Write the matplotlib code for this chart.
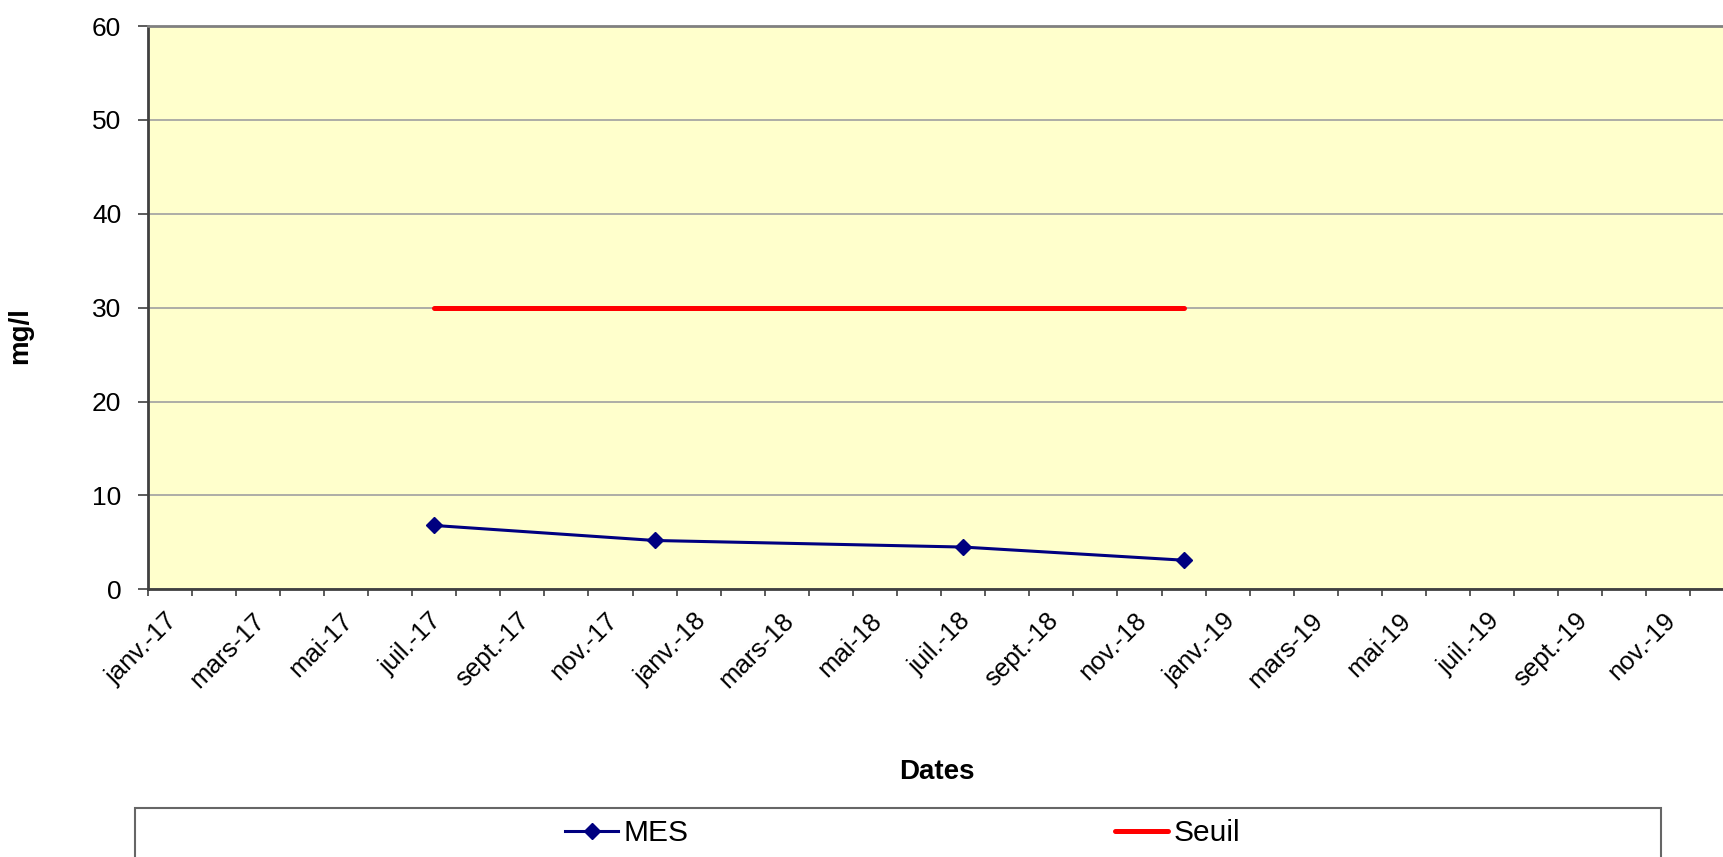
import matplotlib
matplotlib.use("Agg")
import matplotlib.pyplot as plt
from matplotlib.patches import Rectangle
import matplotlib.transforms as mtransforms

plt.rcParams['font.family'] = ['Liberation Sans', 'DejaVu Sans']

# ---- data ----
sample_months = ["2017-07", "2017-12", "2018-07", "2018-12"]
mes_values = [6.8, 5.2, 4.5, 3.1]
seuil_values = [30, 30, 30, 30]
tick_labels = ["janv.-17", "mars-17", "mai-17", "juil.-17", "sept.-17", "nov.-17",
               "janv.-18", "mars-18", "mai-18", "juil.-18", "sept.-18", "nov.-18",
               "janv.-19", "mars-19", "mai-19", "juil.-19", "sept.-19", "nov.-19"]
start_year, start_month = 2017, 1
n_months = 36

def month_pos(s):
    y, m = s.split("-")
    # Excel month axis, points plotted between tick marks
    return (int(y) - start_year) * 12 + (int(m) - start_month) + 0.5

x = [month_pos(s) for s in sample_months]

W, H = 1723, 857
fig = plt.figure(figsize=(W / 100, H / 100), dpi=100)
left_px, right_px = 147.7, 147.7 + 36 * 44.08
top_px, bot_px = 26.0, 589.3
ax = fig.add_axes([left_px / W, (H - bot_px) / H, (right_px - left_px) / W, (bot_px - top_px) / H])
ax.set_facecolor("#FFFFCC")

ax.set_xlim(0, n_months)
ax.set_ylim(0, 60)
ax.set_yticks(range(0, 61, 10))
ax.grid(axis="y", color="#A0A0A0", linewidth=1.2)
ax.set_axisbelow(True)

ax.plot(x, seuil_values, color="#FF0000", linewidth=3.6, solid_capstyle="round",
        label="Seuil", zorder=3)
ax.plot(x, mes_values, color="#000080", linewidth=2.2, marker="D", markersize=8,
        label="MES", zorder=4)

ax.tick_params(axis="x", length=5, width=1.2, color="#404040", pad=8.7, labelsize=18.5)
ax.tick_params(axis="y", length=7, width=1.2, color="#404040", pad=12, labelsize=19)

ax.set_xticks(range(0, n_months + 1))
labels = []
for i in range(n_months + 1):
    labels.append(tick_labels[i // 2] if (i % 2 == 0 and i // 2 < len(tick_labels)) else "")
ax.set_xticklabels(labels)
offset = mtransforms.ScaledTranslation(17 / 100, 0, fig.dpi_scale_trans)
for lab in ax.get_xticklabels():
    lab.set_rotation(45)
    lab.set_rotation_mode("anchor")
    lab.set_ha("right")
    lab.set_va("top")
    lab.set_fontsize(18.5)
    lab.set_transform(lab.get_transform() + offset)

ax.spines["right"].set_visible(False)
ax.spines["top"].set_color("#808080")
ax.spines["top"].set_linewidth(2)
for s in ["left", "bottom"]:
    ax.spines[s].set_color("#404040")
    ax.spines[s].set_linewidth(2)

ax.set_ylabel("mg/l", fontsize=20, fontweight="bold")
ax.yaxis.set_label_coords(-0.0723, 0.451)
ax.set_xlabel("Dates", fontsize=20, fontweight="bold")
ax.xaxis.set_label_coords(0.497, -0.301)

# legend box
fig.patches.append(Rectangle((135 / W, -0.05), (1661 - 135) / W, (H - 807.7) / H + 0.05,
                             transform=fig.transFigure, facecolor="white",
                             edgecolor="#666666", linewidth=1.5, zorder=0))
handles, labs = ax.get_legend_handles_labels()
order = [1, 0]
fig.legend([handles[i] for i in order], [labs[i] for i in order], loc="center",
           bbox_to_anchor=(902.5 / W, (H - 833) / H), ncol=2, frameon=False,
           fontsize=21.5, handlelength=1.77, handletextpad=0.17, columnspacing=14.3)

fig.savefig("out.png", dpi=100)
